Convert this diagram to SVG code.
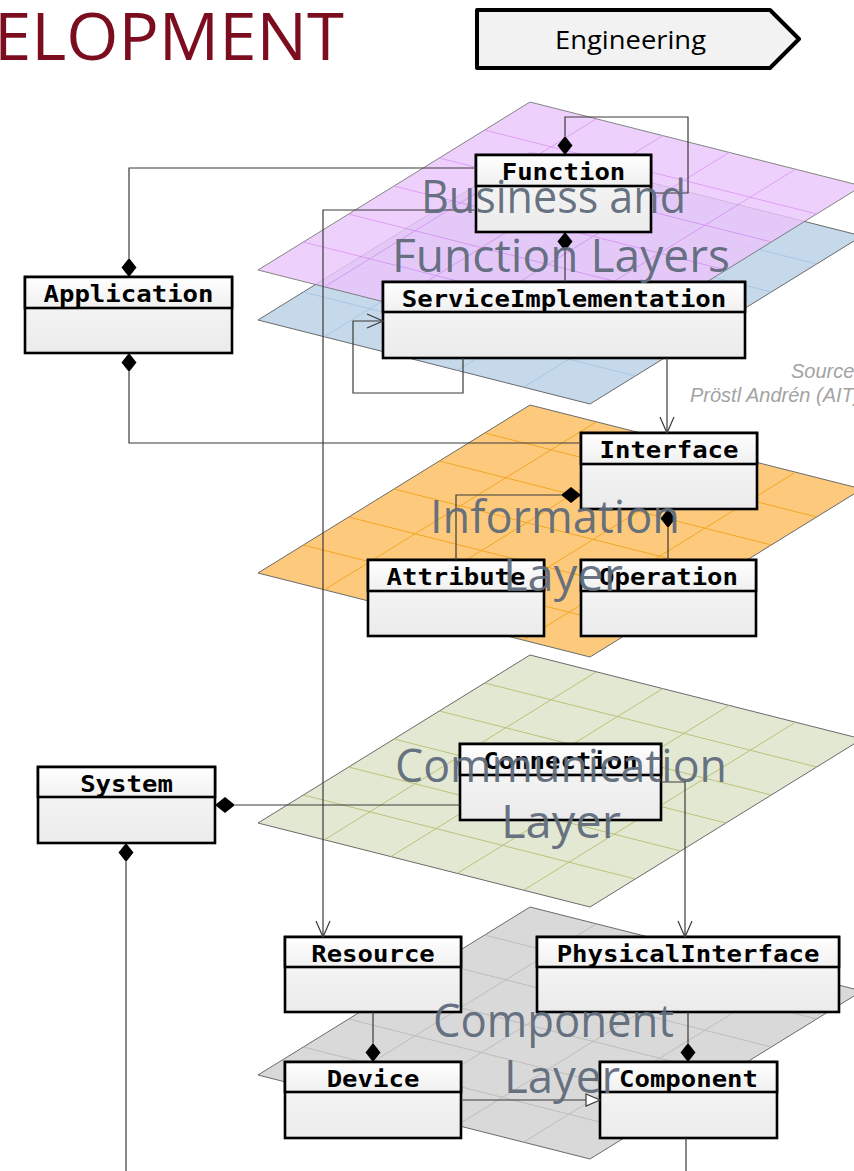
<svg xmlns="http://www.w3.org/2000/svg" xmlns:xlink="http://www.w3.org/1999/xlink" width="854" height="1171" viewBox="0 0 854 1171">
  <style>
    .edge { stroke: #6a6a6a; stroke-width: 1; }
    .grid { fill: none; stroke-width: 1; }
    .box rect { stroke: #000; stroke-width: 2.6; }
    .body { fill: url(#bodyFill); }
    .hdr { fill: url(#hdrFill); }
    .name { font-family: "DejaVu Sans Mono", "Liberation Mono", monospace; font-weight: bold; font-size: 23px; fill: #000; text-anchor: middle; }
    .conn path { fill: none; stroke: #3a3a3a; stroke-width: 1.2; }
    .dia { fill: #000; stroke: none; }
    .lbl { font-family: "Open Sans", "DejaVu Sans", sans-serif; font-size: 46px; fill: #5f6b7b; fill-opacity: 0.95; }
    .src { font-family: "Liberation Sans", Arial, sans-serif; font-style: italic; font-size: 20px; fill: #a3a3a3; }
  </style>
  <defs>
    <linearGradient id="hdrFill" x1="0" y1="0" x2="0" y2="1">
      <stop offset="0" stop-color="#ffffff"/>
      <stop offset="1" stop-color="#f0f0f0"/>
    </linearGradient>
    <linearGradient id="bodyFill" x1="0" y1="0" x2="0" y2="1">
      <stop offset="0" stop-color="#f9f9f9"/>
      <stop offset="1" stop-color="#ebebeb"/>
    </linearGradient>
    <!-- one layer plane, top corner at (530,0) -->
    <polygon id="plane" points="530,0 862,84 590,252 258,168"/>
    <!-- 6 x 5 grid inside the plane -->
    <path id="planeGrid" d="M303.33,140 L635.33,224 M348.67,112 L680.67,196 M394,84 L726,168 M439.33,56 L771.33,140 M484.67,28 L816.67,112 M324.4,184.8 L596.4,16.8 M390.8,201.6 L662.8,33.6 M457.2,218.4 L729.2,50.4 M523.6,235.2 L795.6,67.2"/>
    <polygon id="dv" points="0,0 7.5,9.5 0,19 -7.5,9.5"/>
    <polygon id="dh" points="0,0 10,-8 20,0 10,8"/>
    <marker id="open" markerUnits="userSpaceOnUse" viewBox="-18 -10 20 20" markerWidth="20" markerHeight="20" refX="0" refY="0" orient="auto">
      <path d="M-16,-7 L0,0 L-16,7" fill="none" stroke="#3a3a3a" stroke-width="1.2"/>
    </marker>
  </defs>

  <!-- header -->
  <text x="-6" y="60" font-family="Open Sans, DejaVu Sans, sans-serif" font-size="66" fill="#7b0d1e" textLength="350" lengthAdjust="spacingAndGlyphs">ELOPMENT</text>
  <g id="engineering">
    <polygon points="477,10 770,10 799,39 770,68 477,68" fill="#f2f2f2" stroke="#000" stroke-width="4" stroke-linejoin="round"/>
    <text x="555" y="49" font-family="Open Sans, DejaVu Sans, sans-serif" font-size="25" fill="#000" textLength="151" lengthAdjust="spacingAndGlyphs">Engineering</text>
  </g>

  <!-- layer planes -->
  <g id="planes">
    <g id="plane-service" transform="translate(0,152)">
      <use xlink:href="#plane" fill="#c6d9ea" class="edge"/>
      <use xlink:href="#planeGrid" class="grid" stroke="#a9c6e4"/>
    </g>
    <g id="plane-business" transform="translate(0,102)" opacity="0.82">
      <use xlink:href="#plane" fill="#ebc6fc" class="edge"/>
      <use xlink:href="#planeGrid" class="grid" stroke="#d98cf3"/>
    </g>
    <g id="plane-information" transform="translate(0,405)">
      <use xlink:href="#plane" fill="#fdca7d" class="edge"/>
      <use xlink:href="#planeGrid" class="grid" stroke="#f3a623"/>
    </g>
    <g id="plane-communication" transform="translate(0,655)">
      <use xlink:href="#plane" fill="#e3e8d3" class="edge"/>
      <use xlink:href="#planeGrid" class="grid" stroke="#b9c27a"/>
    </g>
    <g id="plane-component" transform="translate(0,907)">
      <use xlink:href="#plane" fill="#d9d9d9" class="edge"/>
      <use xlink:href="#planeGrid" class="grid" stroke="#bdbdbd"/>
    </g>
  </g>

  <!-- classes -->
  <g id="Function" class="box">
    <rect class="body" x="476" y="155" width="175" height="77"/>
    <rect class="hdr" x="476" y="155" width="175" height="31"/>
    <text class="name" x="563.5" y="179.5" textLength="123.6" lengthAdjust="spacingAndGlyphs">Function</text>
  </g>
  <g id="ServiceImplementation" class="box">
    <rect class="body" x="383" y="282" width="362" height="76"/>
    <rect class="hdr" x="383" y="282" width="362" height="30"/>
    <text class="name" x="564" y="306.5" textLength="324.5" lengthAdjust="spacingAndGlyphs">ServiceImplementation</text>
  </g>
  <g id="Application" class="box">
    <rect class="body" x="25" y="277" width="207" height="76"/>
    <rect class="hdr" x="25" y="277" width="207" height="31"/>
    <text class="name" x="128.5" y="301.5" textLength="170" lengthAdjust="spacingAndGlyphs">Application</text>
  </g>
  <g id="Interface" class="box">
    <rect class="body" x="581" y="433" width="176" height="76"/>
    <rect class="hdr" x="581" y="433" width="176" height="31"/>
    <text class="name" x="669" y="457.5" textLength="139" lengthAdjust="spacingAndGlyphs">Interface</text>
  </g>
  <g id="Attribute" class="box">
    <rect class="body" x="368" y="560" width="176" height="76"/>
    <rect class="hdr" x="368" y="560" width="176" height="31"/>
    <text class="name" x="456" y="584.5" textLength="139" lengthAdjust="spacingAndGlyphs">Attribute</text>
  </g>
  <g id="Operation" class="box">
    <rect class="body" x="581" y="560" width="175" height="76"/>
    <rect class="hdr" x="581" y="560" width="175" height="31"/>
    <text class="name" x="668.5" y="584.5" textLength="139" lengthAdjust="spacingAndGlyphs">Operation</text>
  </g>
  <g id="Connection" class="box">
    <rect class="body" x="460" y="744" width="201" height="76"/>
    <rect class="hdr" x="460" y="744" width="201" height="31"/>
    <text class="name" x="560.5" y="768.5" textLength="154.5" lengthAdjust="spacingAndGlyphs">Connection</text>
  </g>
  <g id="System" class="box">
    <rect class="body" x="38" y="767" width="177" height="76"/>
    <rect class="hdr" x="38" y="767" width="177" height="30"/>
    <text class="name" x="126.5" y="791.5" textLength="92.7" lengthAdjust="spacingAndGlyphs">System</text>
  </g>
  <g id="Resource" class="box">
    <rect class="body" x="285" y="937" width="176" height="75"/>
    <rect class="hdr" x="285" y="937" width="176" height="30"/>
    <text class="name" x="373" y="961.5" textLength="123.6" lengthAdjust="spacingAndGlyphs">Resource</text>
  </g>
  <g id="PhysicalInterface" class="box">
    <rect class="body" x="537" y="937" width="302" height="75"/>
    <rect class="hdr" x="537" y="937" width="302" height="30"/>
    <text class="name" x="688" y="961.5" textLength="262.7" lengthAdjust="spacingAndGlyphs">PhysicalInterface</text>
  </g>
  <g id="Device" class="box">
    <rect class="body" x="285" y="1062" width="176" height="76"/>
    <rect class="hdr" x="285" y="1062" width="176" height="30"/>
    <text class="name" x="373" y="1086.5" textLength="92.7" lengthAdjust="spacingAndGlyphs">Device</text>
  </g>
  <g id="Component" class="box">
    <rect class="body" x="600" y="1062" width="177" height="76"/>
    <rect class="hdr" x="600" y="1062" width="177" height="30"/>
    <text class="name" x="688.5" y="1086.5" textLength="139" lengthAdjust="spacingAndGlyphs">Component</text>
  </g>

  <!-- associations, compositions, generalization -->
  <g id="connectors" class="conn">
    <path d="M565,136 V117 H688 V193 H651"/>
    <path d="M565,251 V282"/>
    <path d="M476,168 H129 V258"/>
    <path d="M129,372 V443 H581"/>
    <path d="M476,210 H323 V937" marker-end="url(#open)"/>
    <path d="M463,358 V393 H353 V321 H383" marker-end="url(#open)"/>
    <path d="M667,358 V433" marker-end="url(#open)"/>
    <path d="M561,495 H456 V560"/>
    <path d="M668,528 V560"/>
    <path d="M235,805 H460"/>
    <path d="M126,862 V1171"/>
    <path d="M661,782 H685 V937" marker-end="url(#open)"/>
    <path d="M373,1012 V1043"/>
    <path d="M688,1012 V1043"/>
    <path d="M461,1100 H586"/>
    <path d="M686,1138 V1171"/>
    <polygon points="586,1094 600,1100 586,1106" fill="#fff" stroke="#3a3a3a" stroke-width="1.2"/>
    <use xlink:href="#dv" class="dia" x="565" y="136"/>
    <use xlink:href="#dv" class="dia" x="565" y="232"/>
    <use xlink:href="#dv" class="dia" x="129" y="258"/>
    <use xlink:href="#dv" class="dia" x="129" y="353"/>
    <use xlink:href="#dv" class="dia" x="668" y="509"/>
    <use xlink:href="#dv" class="dia" x="126" y="843"/>
    <use xlink:href="#dv" class="dia" x="373" y="1043"/>
    <use xlink:href="#dv" class="dia" x="688" y="1043"/>
    <use xlink:href="#dh" class="dia" x="561" y="495"/>
    <use xlink:href="#dh" class="dia" x="215" y="805"/>
  </g>

  <!-- layer names -->
  <g id="layer-labels" class="lbl">
    <text x="421" y="213" textLength="265" lengthAdjust="spacingAndGlyphs">Business and</text>
    <text x="392" y="272" textLength="338" lengthAdjust="spacingAndGlyphs">Function Layers</text>
    <text x="430" y="533" textLength="250" lengthAdjust="spacingAndGlyphs">Information</text>
    <text x="503" y="591" textLength="120" lengthAdjust="spacingAndGlyphs">Layer</text>
    <text x="395" y="782" textLength="332" lengthAdjust="spacingAndGlyphs">Communication</text>
    <text x="501" y="838" textLength="120" lengthAdjust="spacingAndGlyphs">Layer</text>
    <text x="433" y="1037" textLength="241" lengthAdjust="spacingAndGlyphs">Component</text>
    <text x="504" y="1093" textLength="116" lengthAdjust="spacingAndGlyphs">Layer</text>
  </g>

  <g id="source" class="src">
    <text x="791" y="378">Source</text>
    <text x="690" y="402">Pröstl Andrén (AIT)</text>
  </g>
</svg>
